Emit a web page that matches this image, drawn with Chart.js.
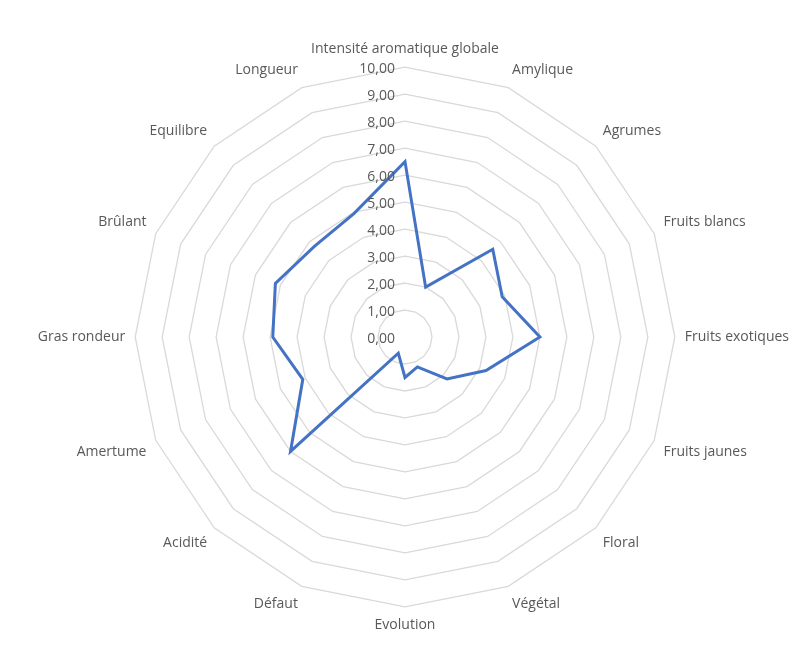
<!DOCTYPE html><html><head><meta charset="utf-8">
<script src="https://cdn.jsdelivr.net/npm/chart.js@4"></script>
<style>body{margin:0;background:#fff}#w{width:807px;height:645px}</style></head><body><div id="w"><canvas id="c"></canvas></div>
<script>
const categories=["Intensité aromatique globale","Amylique","Agrumes","Fruits blancs","Fruits exotiques","Fruits jaunes","Floral","Végétal","Evolution","Défaut","Acidité","Amertume","Gras rondeur","Brûlant","Equilibre","Longueur"];
const values=[6.5,2.0,4.6,3.9,5.0,3.25,2.2,1.2,1.5,0.65,6.0,4.1,4.9,5.2,4.75,4.95];
const tickValues=[0,1,2,3,4,5,6,7,8,9,10];
const tickPlugin={id:'tp',afterDraw(ch){const s=ch.scales.r,c=ch.ctx;c.save();c.font='14px "Open Sans", sans-serif';c.fillStyle='#595959';c.textAlign='right';c.textBaseline='middle';
tickValues.forEach(v=>{const d=s.getDistanceFromCenterForValue(v);c.fillText(v.toFixed(2).replace('.',','),s.xCenter-10,s.yCenter-d+2);});c.restore();}};
new Chart(document.getElementById('c'),{type:'radar',data:{labels:categories,datasets:[{data:values,borderColor:'#4472c4',borderWidth:3,pointRadius:0,fill:false,tension:0}]},
options:{responsive:true,maintainAspectRatio:false,animation:false,layout:{padding:{top:40,bottom:10,left:30,right:10}},
plugins:{legend:{display:false},tooltip:{enabled:false}},
scales:{r:{min:0,max:10,ticks:{display:false,stepSize:1},grid:{color:'#d9d9d9',lineWidth:1.3},angleLines:{display:false},
pointLabels:{color:'#595959',font:{size:14,family:'"Open Sans", sans-serif'},padding:10}}}},plugins:[tickPlugin]});
</script></body></html>
